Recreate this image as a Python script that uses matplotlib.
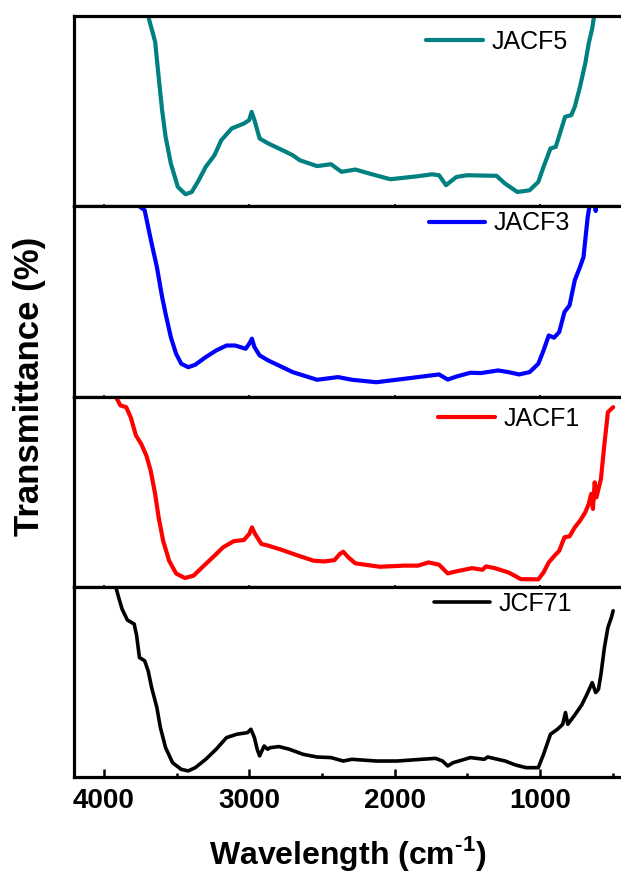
import numpy as np
import matplotlib.pyplot as plt

plt.rcParams['font.family'] = ['Liberation Sans', 'DejaVu Sans']
plt.rcParams['mathtext.fontset'] = 'custom'
plt.rcParams['mathtext.rm'] = 'Liberation Sans:bold'
plt.rcParams['mathtext.bf'] = 'Liberation Sans:bold'

# FTIR spectra, wavenumber (cm-1) vs transmittance (arb. %, per panel)
wn_jacf5 = [3720, 3696, 3648, 3624, 3600, 3576, 3540, 3492, 3439, 3396, 3348, 3300,
            3240, 3193, 3121, 3037, 3001, 2984, 2965, 2929, 2869, 2773, 2701, 2653,
            2534, 2438, 2366, 2270, 2174, 2030, 1839, 1743, 1695, 1647, 1575, 1503,
            1300, 1240, 1156, 1072, 1012, 976, 928, 892, 856, 828, 785, 761, 725,
            689, 665, 641, 629, 620]
tr_jacf5 = [110, 100, 86.5, 68.1, 50.5, 36.5, 22.5, 10.2, 6.3, 7.5, 13.7, 20.7,
            26.8, 34.7, 40.9, 43.5, 45.3, 49.6, 45.3, 35.6, 33.0, 29.5, 26.8, 24.2,
            21.1, 22.1, 18.1, 19.3, 17.2, 14.2, 15.8, 16.8, 16.3, 11.1, 15.4, 16.3,
            16.0, 11.9, 7.5, 8.4, 12.8, 20.7, 30.4, 31.2, 40.0, 47.0, 47.9, 52.3, 62.8,
            75.1, 85.6, 93.5, 99.6, 108]

wn_jacf3 = [3775, 3756, 3720, 3696, 3672, 3636, 3600, 3576, 3540, 3504, 3468, 3420,
            3372, 3300, 3228, 3157, 3097, 3025, 3001, 2982, 2965, 2929, 2869, 2797,
            2701, 2534, 2390, 2294, 2126, 1935, 1695, 1635, 1575, 1479, 1408, 1288,
            1216, 1144, 1072, 1012, 976, 940, 904, 868, 832, 797, 761, 725, 701, 689,
            672, 660, 650, 622, 617, 613]
tr_jacf3 = [108, 100, 97.9, 89.1, 80.4, 68.1, 52.3, 43.5, 31.2, 22.5, 17.2, 15.4,
            16.7, 20.7, 24.2, 26.8, 26.8, 25.1, 27.7, 30.4, 26.0, 21.6, 18.9, 16.3,
            12.8, 8.8, 10.2, 8.8, 7.5, 9.3, 11.6, 8.9, 10.5, 12.5, 12.3, 13.7,
            12.8, 11.6, 12.8, 17.2, 24.2, 32.1, 30.9, 33.9, 44.4, 47.9, 61.1, 68.1, 73.3, 82.1,
            94.4, 100, 108, 106, 97.5, 106]

wn_jacf1 = [3935, 3919, 3887, 3847, 3816, 3780, 3744, 3708, 3679, 3648, 3624, 3593,
            3552, 3504, 3444, 3384, 3312, 3240, 3181, 3109, 3037, 3001, 2982, 2960,
            2917, 2869, 2773, 2677, 2558, 2486, 2414, 2378, 2354, 2318, 2270, 2102,
            1935, 1839, 1767, 1695, 1635, 1575, 1467, 1396, 1372, 1312, 1216, 1132,
            1012, 976, 940, 904, 868, 832, 797, 761, 725, 689, 665, 648, 636, 624,
            612, 581, 557, 533, 509, 497]
tr_jacf1 = [106, 100, 95.3, 94.4, 89.1, 79.5, 75.1, 68.9, 61.1, 48.8, 36.5, 24.2,
            13.7, 7.0, 4.6, 5.8, 11.1, 16.3, 20.7, 23.9, 24.6, 27.7, 31.2, 27.7,
            22.5, 21.6, 19.3, 16.7, 13.7, 13.3, 14.0, 17.2, 18.4, 15.4, 12.3, 10.5,
            11.1, 11.1, 12.8, 11.6, 7.0, 8.1, 9.8, 8.9, 10.7, 9.8, 7.5, 4.0,
            3.9, 7.5, 12.8, 16.0, 18.9, 26.0, 26.5, 31.2, 34.7, 39.1, 43.5, 48.8, 40.9, 54.9,
            47.0, 56.7, 75.1, 91.8, 93.5, 94.4]

wn_jcf71 = [3935, 3919, 3899, 3875, 3839, 3792, 3775, 3756, 3720, 3696, 3672, 3636,
            3612, 3576, 3528, 3468, 3420, 3372, 3300, 3228, 3157, 3085, 3013, 2989,
            2965, 2946, 2929, 2898, 2874, 2857, 2797, 2725, 2629, 2534, 2438, 2354,
            2294, 2126, 1983, 1815, 1719, 1671, 1635, 1599, 1479, 1384, 1360, 1240,
            1168, 1096, 1012, 976, 928, 880, 844, 825, 809, 761, 713, 677, 641, 617,
            598, 581, 557, 533, 509, 497]
tr_jcf71 = [106, 100, 94.4, 88.2, 82.5, 80.4, 74.2, 62.8, 61.1, 55.8, 47.0, 36.5,
            26.0, 15.4, 7.5, 4.0, 3.2, 4.9, 9.3, 14.6, 20.7, 22.5, 23.3, 25.1,
            20.7, 14.6, 11.1, 16.3, 14.6, 15.4, 16.0, 14.6, 11.9, 10.5, 10.2, 8.4,
            9.3, 8.4, 8.4, 9.3, 9.8, 8.4, 5.8, 7.5, 10.2, 9.3, 10.5, 8.4,
            6.3, 4.9, 4.9, 11.9, 22.5, 25.1, 27.7, 33.9, 27.7, 32.6, 37.9, 43.5, 49.6, 44.4,
            46.1, 54.0, 68.1, 78.6, 83.9, 87.4]

samples = ['JACF5', 'JACF3', 'JACF1', 'JCF71']
colors = ['#008080', '#0000ff', '#ff0000', '#000000']
widths = [3.0, 3.0, 3.0, 2.6]
spectra = [(wn_jacf5, tr_jacf5), (wn_jacf3, tr_jacf3),
           (wn_jacf1, tr_jacf1), (wn_jcf71, tr_jcf71)]
legend_pos = [(0.644, 0.863), (0.649, 0.91), (0.666, 0.884), (0.658, 0.91)]

fig, axes = plt.subplots(4, 1, sharex=True, figsize=(6.21, 8.75), dpi=100)
fig.subplots_adjust(left=0.1192, right=1.0, top=0.9817, bottom=0.112, hspace=0)

for ax, name, col, lw, (wn, tr), pos in zip(axes, samples, colors, widths,
                                            spectra, legend_pos):
    ax.plot(wn, tr, color=col, lw=lw, label=name,
            solid_joinstyle='round', solid_capstyle='round')
    ax.set_ylim(0, 100)
    ax.set_yticks([])
    ax.spines['right'].set_visible(False)
    for s in ['left', 'bottom', 'top']:
        ax.spines[s].set_linewidth(2.3)
    ax.tick_params(axis='x', which='major', direction='in', length=1.5, width=1.2)
    ax.tick_params(axis='x', which='minor', direction='in', length=1, width=1.2)
    ax.legend(loc='center left', bbox_to_anchor=pos, frameon=False,
              borderpad=0, borderaxespad=0, handlelength=2.25,
              handletextpad=0.35, fontsize=18)

ax = axes[-1]
ax.set_xlim(4206, 443)
ax.set_xticks([4000, 3000, 2000, 1000])
ax.set_xticks([3500, 2500, 1500, 500], minor=True)
ax.tick_params(axis='x', which='major', direction='in', length=6, width=1.8,
               pad=8, labelsize=20)
ax.tick_params(axis='x', which='minor', direction='in', length=3, width=1.8)
for lab in ax.get_xticklabels():
    lab.set_fontweight('bold')

fig.text(0.048, 0.558, 'Transmittance (%)', rotation=90, ha='center',
         va='center', fontsize=25, fontweight='bold')
fig.text(0.56, 0.0125, r'Wavelength (cm$^{\text{-}1}$)', ha='center',
         va='baseline', fontsize=23, fontweight='bold')

fig.savefig('out.png', dpi=100)
